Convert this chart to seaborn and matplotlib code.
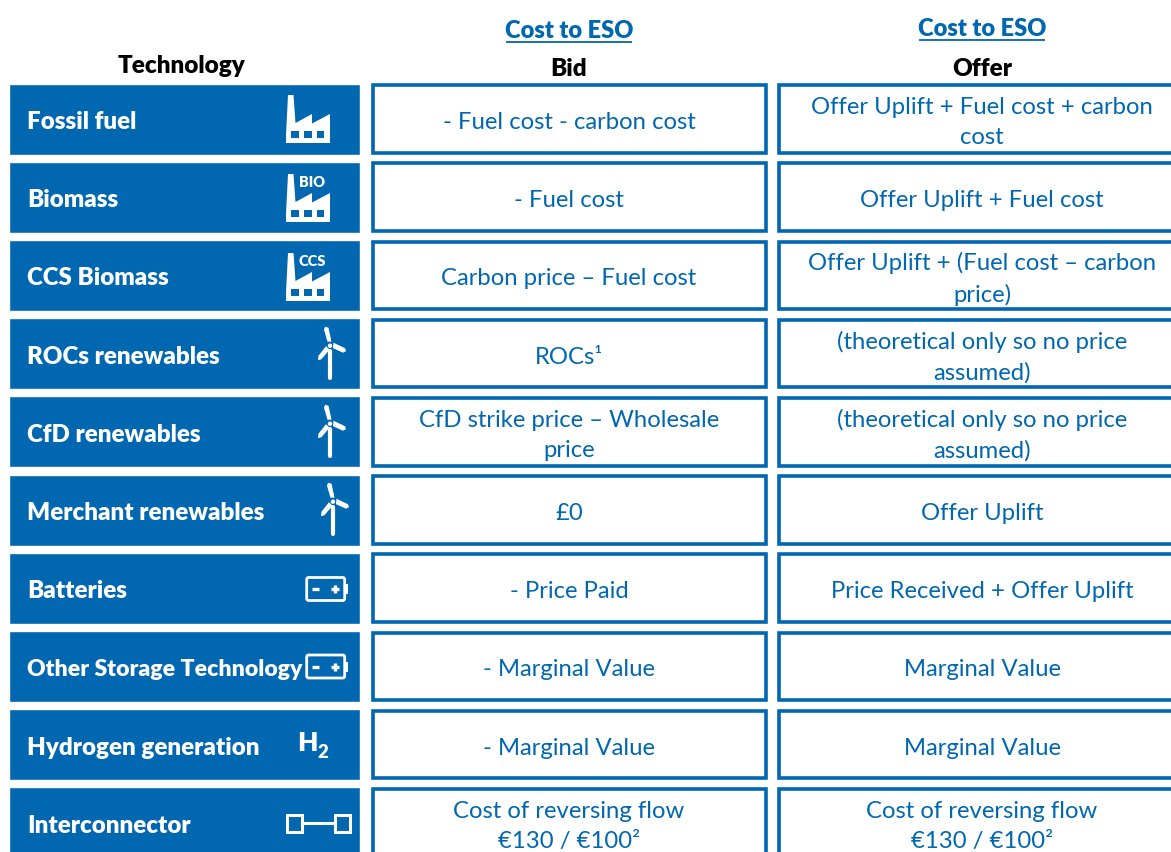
import matplotlib
matplotlib.use('Agg')
import matplotlib.pyplot as plt
from matplotlib.patches import Polygon, Rectangle, FancyBboxPatch, Circle
import seaborn as sb

# Table content
technologies = ['Fossil fuel', 'Biomass', 'CCS Biomass', 'ROCs renewables', 'CfD renewables',
                'Merchant renewables', 'Batteries', 'Other Storage Technology',
                'Hydrogen generation', 'Interconnector']
bid_costs = ['- Fuel cost - carbon cost', '- Fuel cost', 'Carbon price – Fuel cost', 'ROCs¹',
             'CfD strike price – Wholesale\nprice', '£0', '- Price Paid', '- Marginal Value',
             '- Marginal Value', 'Cost of reversing flow\n€130 / €100²']
offer_costs = ['Offer Uplift + Fuel cost + carbon\ncost', 'Offer Uplift + Fuel cost',
               'Offer Uplift + (Fuel cost – carbon\nprice)',
               '(theoretical only so no price\nassumed)',
               '(theoretical only so no price\nassumed)', 'Offer Uplift',
               'Price Received + Offer Uplift', 'Marginal Value', 'Marginal Value',
               'Cost of reversing flow\n€130 / €100²']
column_title = 'Cost to ESO'
column_names = ['Technology', 'Bid', 'Offer']
cell_fill = [1] * len(technologies)

BLUE = '#0067B0'
W, H = 1171, 853
ROW_Y = 120
ROW_STEP = 78.2

sb.set_theme(style='white')
plt.rcParams['font.family'] = ['Lato', 'DejaVu Sans']

fig = plt.figure(figsize=(W / 100, H / 100), dpi=100, facecolor='white')


# One axes per table column, bars are the cells
def column_axes(left, right, height, **kws):
    ax = fig.add_axes([left / W, 0, (right - left) / W, 1])
    sb.barplot(x=cell_fill, y=technologies, orient='h', ax=ax, width=height / ROW_STEP,
               saturation=1, **kws)
    ax.set_xlim(0, 1)
    ax.set_ylim((H - ROW_Y) / ROW_STEP, -ROW_Y / ROW_STEP)
    ax.axis('off')
    for p in ax.patches:
        p.set_clip_on(False)
    return ax


column_axes(8.7, 359.7, 71, color=BLUE)
column_axes(372.9, 766, 67.5, color='white', edgecolor=BLUE, linewidth=2.6)
column_axes(778.5, 1210, 67.5, color='white', edgecolor=BLUE, linewidth=2.6)

# Overlay in pixel coordinates for text and icons
top = fig.add_axes([0, 0, 1, 1], facecolor='none')
top.set_xlim(0, W)
top.set_ylim(H, 0)
top.axis('off')

for x, y, name in zip([182, 569, 982], [66, 69, 69], column_names):
    top.text(x, y, name, color='black', fontsize=17.5, fontweight=800, ha='center', va='center')
for x, y, x0, x1 in [(569, 31, 506, 632), (982, 29, 919, 1045)]:
    top.text(x, y, column_title, color=BLUE, fontsize=17, fontweight=800, ha='center', va='center')
    top.plot([x0, x1], [y + 11.5, y + 11.5], color=BLUE, lw=1.3, solid_capstyle='butt')

for i in range(len(technologies)):
    y = ROW_Y + ROW_STEP * i
    # the long label has to stop before the battery icon
    size = 16.6 if len(technologies[i]) > 20 else 17.4
    top.text(27, y + 2, technologies[i], color='white', fontsize=size, fontweight=800,
             ha='left', va='center')
    top.text(569, y + 2.5, bid_costs[i], color=BLUE, fontsize=17.2, ha='center', va='center',
             linespacing=1.55)
    top.text(982, y + 2.5, offer_costs[i], color=BLUE, fontsize=17.2, ha='center', va='center',
             linespacing=1.55)


def factory(y0, label=None):
    x0 = 286
    shape = [(0, 48), (0, 40), (2, 0), (7.5, 0), (9.5, 28), (26, 19), (26, 28.5), (44, 19), (44, 48)]
    top.add_patch(Polygon([(x0 + a, y0 + b) for a, b in shape], color='white', lw=0))
    for a in [5.3, 18.3, 31]:
        top.add_patch(Rectangle((x0 + a, y0 + 36.3), 7.2, 6.4, color=BLUE, lw=0))
    if label:
        top.text(x0 + 26, y0 + 7, label, color='white', fontsize=10.5, fontweight=800,
                 ha='center', va='center')


def turbine(x, y):
    top.plot([x, x], [y + 5, y + 32], color='white', lw=3, solid_capstyle='round')
    top.add_patch(Circle((x, y), 2.2, color='white', lw=0))
    for blade in [[(1.5, -4), (-2.5, -4), (-6, -16), (-5, -19), (-1.5, -18)],
                  [(3.5, -3), (3, 2.5), (13, 7), (16, 5.5), (15, 2.5)],
                  [(-4, 0.5), (-0.5, 4), (-8.5, 13.5), (-12, 14.5), (-11.5, 10)]]:
        top.add_patch(Polygon([(x + a, y + b) for a, b in blade], color='white', lw=0))


def battery(y):
    top.add_patch(FancyBboxPatch((306.7, y - 11.5), 38, 23, boxstyle='round,pad=0,rounding_size=2',
                                 fc='none', ec='white', lw=2))
    top.add_patch(Rectangle((345.5, y - 5), 2.5, 10, color='white', lw=0))
    top.plot([312, 319], [y, y], color='white', lw=2.4, solid_capstyle='butt')
    top.plot([331, 339], [y, y], color='white', lw=2.4, solid_capstyle='butt')
    top.plot([335, 335], [y - 4, y + 4], color='white', lw=2.4, solid_capstyle='butt')


factory(96)
factory(175, 'BIO')
factory(254, 'CCS')
turbine(330, 346.7)
turbine(330, 424.7)
turbine(333, 502.7)
battery(590)
battery(667.5)

# H2 label
top.text(307, 743, 'H', color='white', fontsize=19, fontweight=800, ha='center', va='center')
top.text(323, 753, '2', color='white', fontsize=13.5, fontweight=800, ha='center', va='center')

# Interconnector symbol
top.add_patch(Rectangle((287.2, 816), 15, 16.5, fc='none', ec='white', lw=2.2))
top.add_patch(Rectangle((334.5, 816), 15, 16.5, fc='none', ec='white', lw=2.2))
top.plot([303, 334], [824, 824], color='white', lw=2.2, solid_capstyle='butt')

fig.savefig('out.png', dpi=100, facecolor='white')
